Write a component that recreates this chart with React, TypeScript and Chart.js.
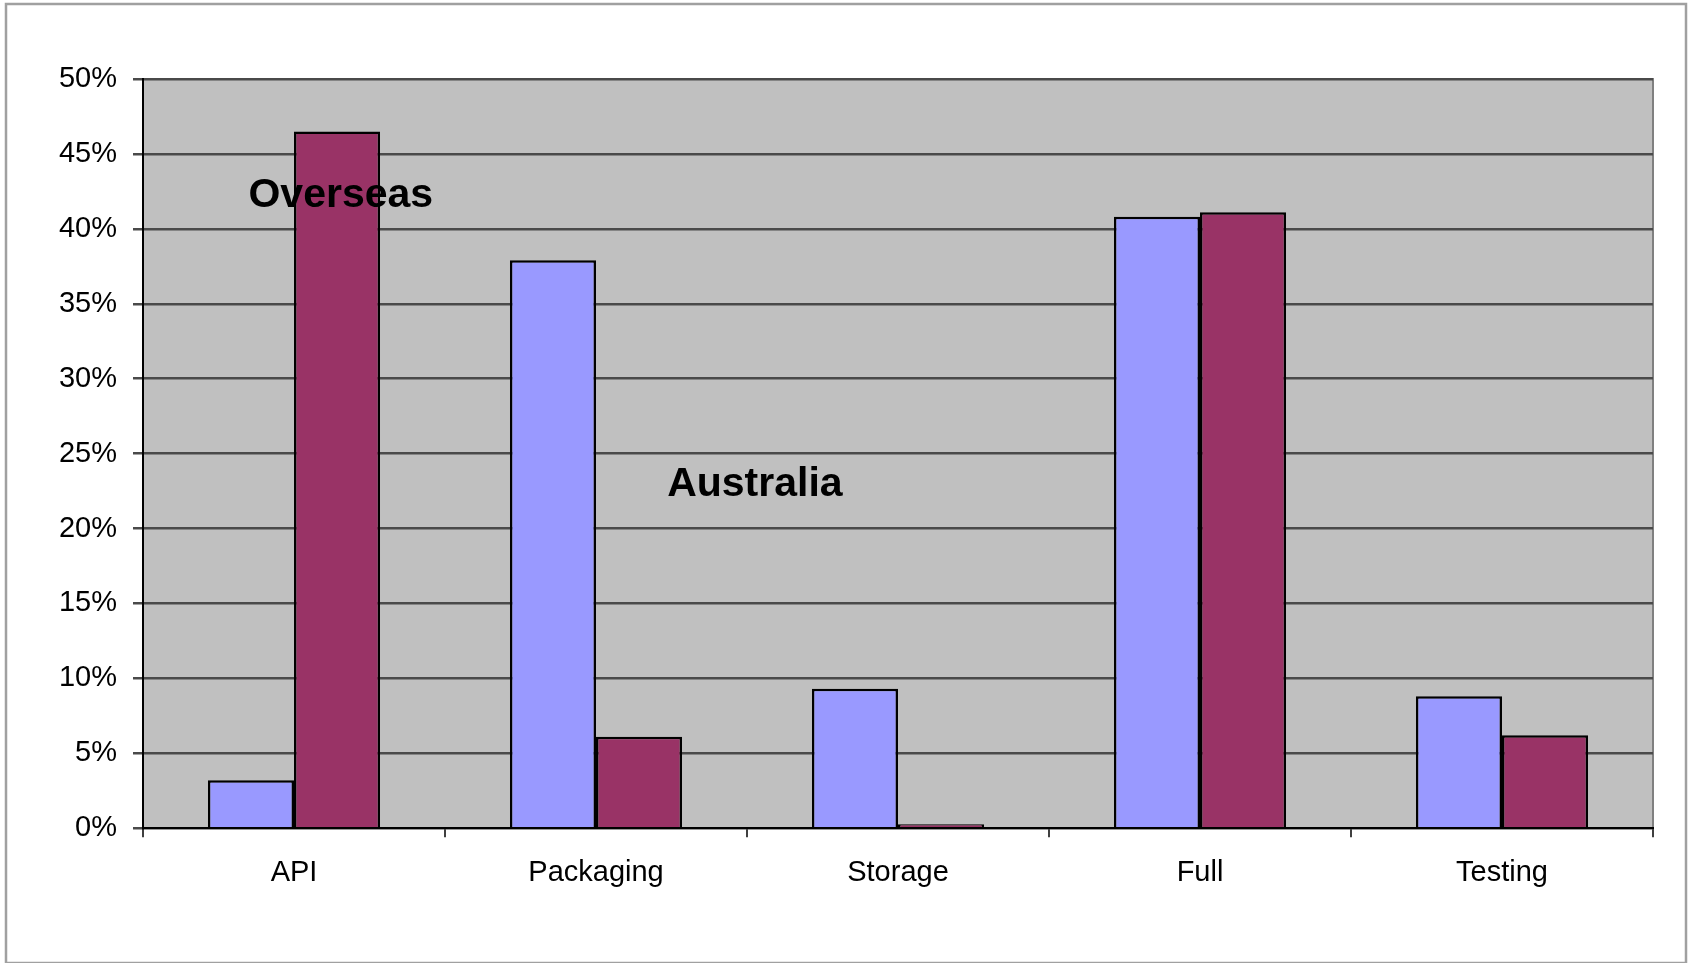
import React, { useEffect, useRef } from "react";
import { Chart, registerables } from "chart.js";

Chart.register(...registerables);

const categories = ["API", "Packaging", "Storage", "Full", "Testing"];
const australia = [3.2, 37.9, 9.3, 40.8, 8.8];
const overseas = [46.5, 6.1, 0.1, 41.1, 6.2];
const seriesNames = ["Australia", "Overseas"];
// annotation labels: [text, x (category units), y (%)]
const labelTexts = ["Overseas", "Australia"];
const labelX = [0.155, 1.526];
const labelY = [42.2, 22.9];

const plotBgPlugin = {
  id: "plotBg",
  beforeDraw(chart: any) {
    const { ctx, chartArea } = chart;
    ctx.save();
    ctx.fillStyle = "#ffffff";
    ctx.fillRect(0, 0, chart.width, chart.height);
    ctx.strokeStyle = "#a0a0a0";
    ctx.lineWidth = 2.5;
    ctx.strokeRect(6, 4, chart.width - 10, chart.height - 4);
    ctx.fillStyle = "#c0c0c0";
    ctx.fillRect(chartArea.left, chartArea.top, chartArea.right - chartArea.left, chartArea.bottom - chartArea.top);
    ctx.strokeStyle = "#808080";
    ctx.lineWidth = 2;
    ctx.strokeRect(chartArea.left, chartArea.top, chartArea.right - chartArea.left, chartArea.bottom - chartArea.top);
    ctx.restore();
  },
  afterDatasetsDraw(chart: any) {
    const { ctx } = chart;
    const xs = chart.scales.x;
    const ys = chart.scales.y;
    ctx.save();
    ctx.fillStyle = "#000000";
    ctx.font = "bold 41px 'Liberation Sans', Arial, sans-serif";
    ctx.textAlign = "center";
    ctx.textBaseline = "middle";
    labelTexts.forEach((t, i) => {
      const x0 = xs.getPixelForValue(Math.floor(labelX[i]));
      const step = xs.getPixelForValue(1) - xs.getPixelForValue(0);
      const px = x0 + (labelX[i] - Math.floor(labelX[i])) * step;
      ctx.fillText(t, px, ys.getPixelForValue(labelY[i]));
    });
    ctx.restore();
  },
};

export default function App() {
  const ref = useRef<HTMLCanvasElement>(null);
  useEffect(() => {
    document.body.style.margin = "0";
    const chart = new Chart(ref.current as HTMLCanvasElement, {
      type: "bar",
      data: {
        labels: categories,
        datasets: [
          {
            label: seriesNames[0],
            data: australia,
            backgroundColor: "#9999ff",
            borderColor: "#000000",
            borderWidth: 2.5,
            categoryPercentage: 0.57,
            barPercentage: 1,
          },
          {
            label: seriesNames[1],
            data: overseas,
            backgroundColor: "#993366",
            borderColor: "#000000",
            borderWidth: 2.5,
            minBarLength: 4,
            categoryPercentage: 0.57,
            barPercentage: 1,
          },
        ],
      },
      options: {
        responsive: false,
        animation: false,
        layout: { padding: { left: 0, top: 79, right: 37, bottom: 55 } },
        plugins: { legend: { display: false }, tooltip: { enabled: false } },
        scales: {
          x: {
            grid: {
              offset: true,
              drawOnChartArea: false,
              drawTicks: true,
              tickLength: 9,
              color: "#404040",
              lineWidth: 2,
            },
            border: { color: "#000000", width: 2 },
            ticks: {
              color: "#000000",
              padding: 18,
              font: { family: "'Liberation Sans', Arial, sans-serif", size: 29 },
            },
          },
          y: {
            min: 0,
            max: 50,
            afterFit(scale: any) {
              scale.width = 143;
            },
            grid: {
              color: "#4a4a4a",
              lineWidth: 2.5,
              tickLength: 10,
            },
            border: { color: "#000000", width: 2 },
            ticks: {
              stepSize: 5,
              color: "#000000",
              padding: 16,
              font: { family: "'Liberation Sans', Arial, sans-serif", size: 29 },
              callback: (v: any) => v + "%",
            },
          },
        },
      },
      plugins: [plotBgPlugin],
    });
    return () => chart.destroy();
  }, []);
  return <canvas ref={ref} width={1690} height={963} style={{ display: "block" }} />;
}
